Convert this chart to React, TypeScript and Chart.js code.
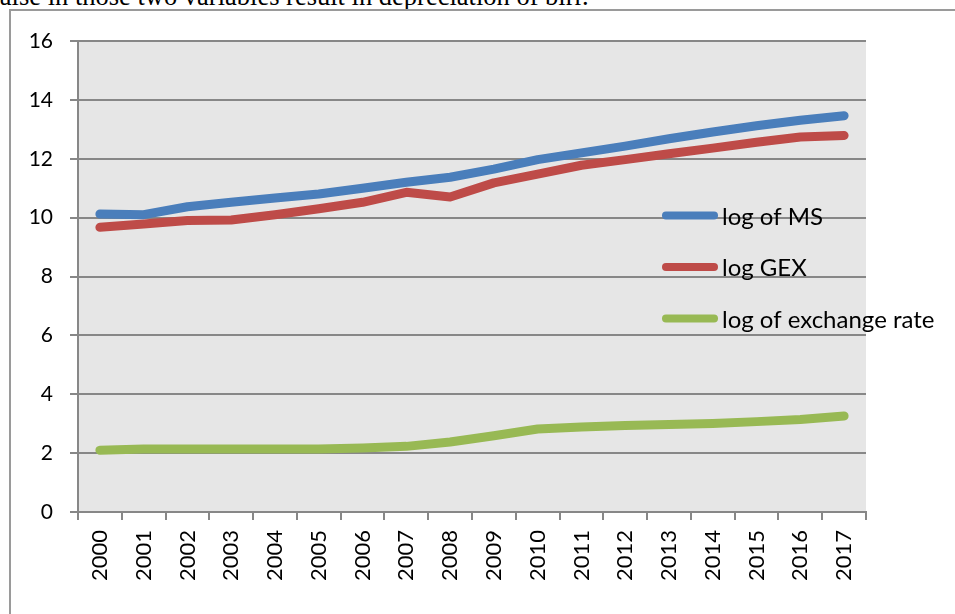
import React, { useEffect, useRef } from 'react';
import { Chart, registerables } from 'chart.js';

Chart.register(...registerables);

const years = ['2000', '2001', '2002', '2003', '2004', '2005', '2006', '2007', '2008', '2009', '2010', '2011', '2012', '2013', '2014', '2015', '2016', '2017'];
const logMS = [10.12, 10.1, 10.37, 10.52, 10.67, 10.8, 11.0, 11.2, 11.37, 11.65, 11.97, 12.2, 12.43, 12.68, 12.91, 13.12, 13.31, 13.46];
const logGEX = [9.67, 9.78, 9.9, 9.92, 10.1, 10.3, 10.52, 10.86, 10.7, 11.18, 11.48, 11.78, 11.97, 12.17, 12.36, 12.56, 12.74, 12.79];
const logExchange = [2.1, 2.14, 2.14, 2.14, 2.14, 2.14, 2.17, 2.23, 2.38, 2.59, 2.82, 2.89, 2.94, 2.97, 3.01, 3.07, 3.14, 3.26];
const seriesNames = ['log of MS', 'log GEX', 'log of exchange rate'];
const seriesColors = ['#4a7ebb', '#be4b48', '#98b954'];
const yMin = 0;
const yMax = 16;
const yStep = 2;

const FONT = 'Lato, "Noto Sans", sans-serif';

const plotBgPlugin = {
  id: 'plotBg',
  beforeDraw(chart: any) {
    const { ctx, chartArea } = chart;
    ctx.save();
    ctx.fillStyle = '#e6e6e6';
    ctx.fillRect(chartArea.left, chartArea.top, chartArea.right - chartArea.left, chartArea.bottom - chartArea.top);
    ctx.restore();
  },
};

const insideLegendPlugin = {
  id: 'insideLegend',
  afterDatasetsDraw(chart: any) {
    const { ctx } = chart;
    const x0 = 666;
    const lineLen = 48;
    const rowY = [215.5, 267, 318.5];
    ctx.save();
    chart.data.datasets.forEach((ds: any, i: number) => {
      const y = rowY[i];
      ctx.beginPath();
      ctx.strokeStyle = ds.borderColor;
      ctx.lineWidth = 8;
      ctx.lineCap = 'round';
      ctx.moveTo(x0, y);
      ctx.lineTo(x0 + lineLen, y);
      ctx.stroke();
      ctx.fillStyle = '#000';
      ctx.font = `24px ${FONT}`;
      ctx.textBaseline = 'alphabetic';
      ctx.textAlign = 'left';
      ctx.fillText(ds.label, 722, y + 9);
    });
    ctx.restore();
  },
};

export default function App() {
  const canvasRef = useRef<HTMLCanvasElement | null>(null);

  useEffect(() => {
    if (!canvasRef.current) return;
    const chart = new Chart(canvasRef.current, {
      type: 'line',
      data: {
        labels: years,
        datasets: [logMS, logGEX, logExchange].map((d, i) => ({
          label: seriesNames[i],
          data: d,
          borderColor: seriesColors[i],
          backgroundColor: seriesColors[i],
          borderWidth: 9,
          borderCapStyle: 'round',
          borderJoinStyle: 'round',
          pointRadius: 0,
          tension: 0,
          fill: false,
        })),
      },
      options: {
        animation: false,
        responsive: false,
        maintainAspectRatio: false,
        layout: { padding: { top: 41, right: 89, left: 0, bottom: 0 } },
        plugins: {
          legend: { display: false },
          tooltip: { enabled: false },
        },
        scales: {
          x: {
            offset: true,
            grid: {
              offset: true,
              drawOnChartArea: false,
              drawTicks: true,
              tickLength: 8,
              color: '#878787',
              lineWidth: 2,
            },
            border: { color: '#878787', width: 2 },
            ticks: {
              minRotation: 90,
              maxRotation: 90,
              autoSkip: false,
              padding: 10,
              color: '#000',
              font: { family: FONT, size: 22 },
            },
            afterFit(scale: any) {
              scale.height = 102;
            },
          },
          y: {
            min: yMin,
            max: yMax,
            ticks: {
              stepSize: yStep,
              padding: 17,
              color: '#000',
              font: { family: FONT, size: 21 },
            },
            grid: {
              color: '#878787',
              lineWidth: 2,
              tickLength: 8,
            },
            border: { color: '#878787', width: 2 },
            afterFit(scale: any) {
              scale.width = 78;
            },
          },
        },
      },
      plugins: [plotBgPlugin, insideLegendPlugin],
    } as any);
    return () => chart.destroy();
  }, []);

  return (
    <div style={{ position: 'absolute', left: 0, top: 0, width: 955, height: 614, overflow: 'hidden', background: '#fff' }}>
      <div
        style={{
          position: 'absolute',
          left: -9,
          top: -17,
          fontFamily: '"Liberation Serif", "Times New Roman", serif',
          fontSize: 26.5,
          lineHeight: '26.5px',
          whiteSpace: 'nowrap',
          color: '#000',
        }}
      >
        raise in those two variables result in depreciation of birr.
      </div>
      <div
        style={{
          position: 'absolute',
          left: 9,
          top: 9,
          width: 1000,
          height: 700,
          borderLeft: '2px solid #9a9a9a',
          borderTop: '2px solid #9a9a9a',
        }}
      />
      <canvas ref={canvasRef} width={955} height={614} style={{ position: 'absolute', left: 0, top: 0, width: 955, height: 614 }} />
    </div>
  );
}
